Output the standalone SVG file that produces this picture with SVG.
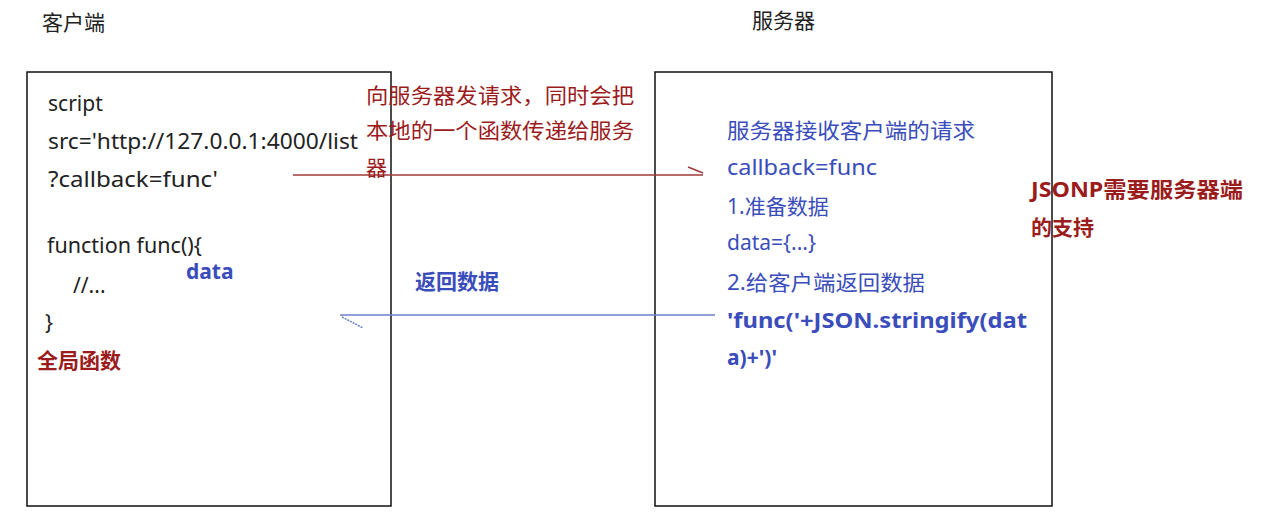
<svg xmlns="http://www.w3.org/2000/svg" width="1263" height="532" viewBox="0 0 1263 532">
<style>
text{font-family:"Noto Sans","Noto Sans CJK SC",sans-serif;font-size:21px}
.k{fill:#222}
.r{fill:#9b1c1c}
.b{fill:#3a4dbb}
.bold{font-weight:bold}
.box{fill:#fff;stroke:#111;stroke-width:1.5}
</style>
<rect width="1263" height="532" fill="#fff"/>
<g id="titles">
<text class="k" x="42" y="30" font-size="20">客户端</text>
<text class="k" x="752" y="28" font-size="20">服务器</text>
</g>
<g id="client">
<rect class="box" x="27" y="72" width="364" height="434"/>
<text class="k" x="48" y="111">script</text>
<text class="k" x="48" y="149" textLength="310" lengthAdjust="spacingAndGlyphs">src='http://127.0.0.1:4000/list</text>
<text class="k" x="48" y="187" textLength="170" lengthAdjust="spacingAndGlyphs">?callback=func'</text>
<text class="k" x="47" y="253" textLength="155" lengthAdjust="spacingAndGlyphs">function func(){</text>
<text class="k" x="73" y="293">//...</text>
<text class="k" x="45" y="330">}</text>
<text class="b bold" x="186" y="279">data</text>
<text class="r bold" x="37" y="368">全局函数</text>
</g>
<g id="server">
<rect class="box" x="655" y="72" width="397" height="434"/>
<text class="b" x="727" y="138" textLength="248" lengthAdjust="spacingAndGlyphs">服务器接收客户端的请求</text>
<text class="b" x="727" y="175" textLength="150" lengthAdjust="spacingAndGlyphs">callback=func</text>
<text class="b" x="727" y="214">1.准备数据</text>
<text class="b" x="727" y="250">data={...}</text>
<text class="b" x="727" y="290" textLength="198" lengthAdjust="spacingAndGlyphs">2.给客户端返回数据</text>
<text class="b bold" x="727" y="328" textLength="300" lengthAdjust="spacingAndGlyphs">'func('+JSON.stringify(dat</text>
<text class="b bold" x="727" y="365">a)+')'</text>
</g>
<g id="note">
<text class="r bold" x="1031" y="197" textLength="212" lengthAdjust="spacingAndGlyphs">JSONP需要服务器端</text>
<text class="r bold" x="1031" y="235">的支持</text>
</g>
<g id="connectors">
<g id="request">
<line x1="293" y1="175" x2="703" y2="175" stroke="#a03a3a" stroke-width="1.5"/>
<line x1="688" y1="167" x2="703" y2="173" stroke="#a03a3a" stroke-width="1.5"/>
<text class="r" x="366" y="103" textLength="268" lengthAdjust="spacingAndGlyphs">向服务器发请求，同时会把</text>
<text class="r" x="366" y="138" textLength="268" lengthAdjust="spacingAndGlyphs">本地的一个函数传递给服务</text>
<text class="r" x="366" y="175">器</text>
</g>
<g id="response">
<line x1="340" y1="315" x2="715" y2="315" stroke="#6a7fd0" stroke-width="1.5"/>
<line x1="342" y1="317" x2="363" y2="328" stroke="#6a7fd0" stroke-width="1.5" stroke-dasharray="2 1"/>
<text class="b bold" x="415" y="289">返回数据</text>
</g>
</g>
</svg>
